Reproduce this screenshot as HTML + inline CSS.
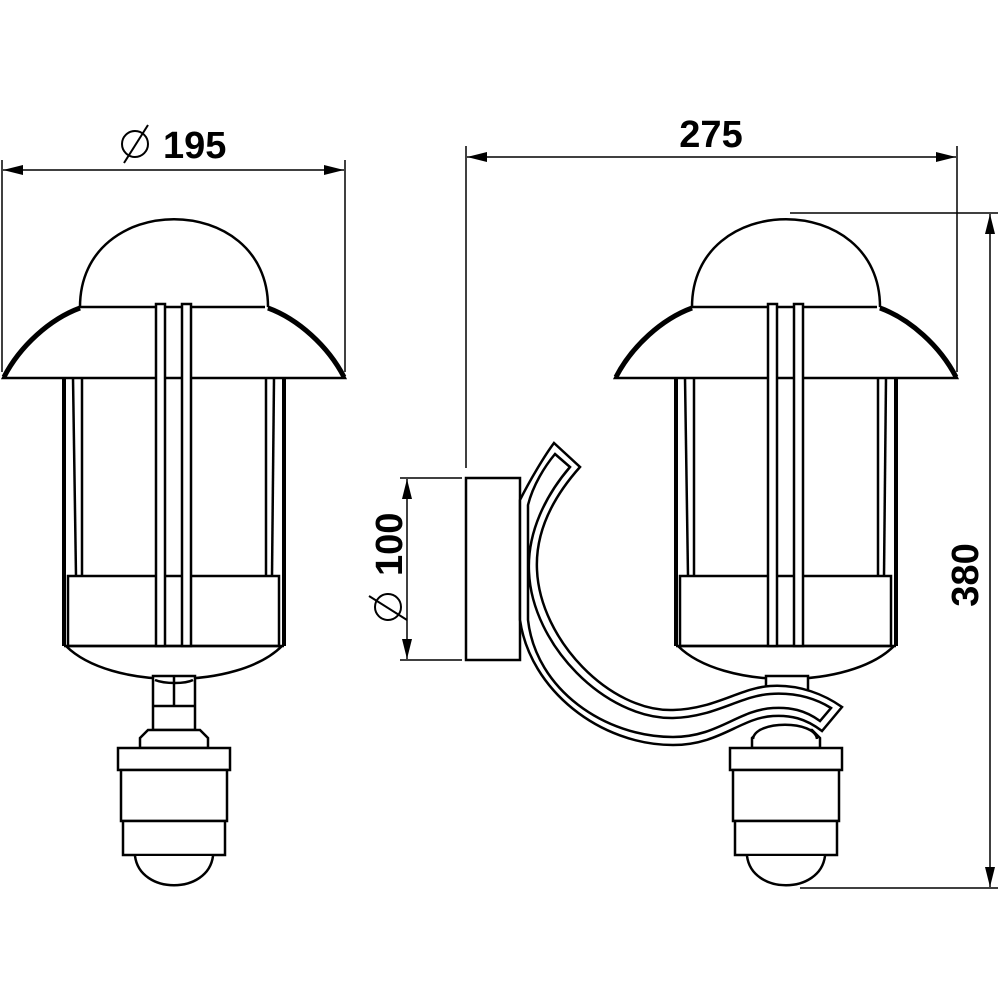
<!DOCTYPE html>
<html><head><meta charset="utf-8"><style>
html,body{margin:0;padding:0;background:#fff;}
svg{display:block;}
text{font-family:"Liberation Sans",sans-serif;font-weight:bold;fill:#000;}
</style></head><body>
<svg width="1000" height="1000" viewBox="0 0 1000 1000" xmlns="http://www.w3.org/2000/svg">
<defs>
<marker id="ar" viewBox="0 0 20 10" refX="20" refY="5" markerWidth="20" markerHeight="10" markerUnits="userSpaceOnUse" orient="auto-start-reverse"><path d="M0,0 L20,5 L0,10 z" fill="#000"/></marker>
<g id="lamp" fill="none" stroke="#000" stroke-width="2.5">
  <path d="M80,307 C80,190 268,190 268,307" fill="#fff"/>
  <path d="M80,307 L265,307" />
  <path d="M80,307 C50,318 20,345 3,378 L345,378 C328,345 298,318 268,307" stroke-width="2.5"/>
  <path d="M80,308 C50,319 20,346 4,377" stroke-width="5"/>
  <path d="M268,308 C298,319 328,346 344,377" stroke-width="5"/>
  <line x1="64" y1="378" x2="64" y2="646" stroke-width="4"/>
  <line x1="284" y1="378" x2="284" y2="646" stroke-width="4"/>
  <line x1="73" y1="378" x2="76" y2="576"/>
  <line x1="82" y1="378" x2="82" y2="576"/>
  <line x1="266" y1="378" x2="266" y2="576"/>
  <line x1="274" y1="378" x2="272" y2="576"/>
  <rect x="68" y="576" width="211" height="70"/>
  <line x1="64" y1="646" x2="284" y2="646"/>
  <rect x="156" y="304" width="9" height="342" fill="#fff"/>
  <rect x="182" y="304" width="9" height="342" fill="#fff"/>
  <path d="M66,646 C110,690 238,690 282,646"/>
</g>
<g id="sensor" fill="#fff" stroke="#000" stroke-width="2.5">
  <path d="M140,748 L140,738 L148,730 L200,730 L208,738 L208,748 Z"/>
  <rect x="118" y="748" width="112" height="22"/>
  <rect x="121" y="770" width="106" height="51"/>
  <rect x="123" y="821" width="102" height="34"/>
  <path d="M135,856 C140,895 208,895 213,856"/>
</g>
</defs>

<use href="#lamp"/>
<g fill="#fff" stroke="#000" stroke-width="2.5">
  <rect x="153" y="676" width="42" height="54"/>
  <line x1="153" y1="706" x2="195" y2="706"/>
  <line x1="174" y1="676" x2="174" y2="706"/>
  <path d="M155,680 C165,684 185,684 193,680" fill="none"/>
</g>
<use href="#sensor"/>

<g transform="translate(612,0)"><use href="#lamp"/></g>
<rect x="766" y="676" width="42" height="20" fill="#fff" stroke="#000" stroke-width="2.5"/>
<g transform="translate(612,0)"><use href="#sensor"/></g>
<path d="M753,739 C755,720 815,720 817,739" fill="#fff" stroke="#000" stroke-width="2.5"/>

<rect x="466" y="478" width="54" height="182" fill="#fff" stroke="#000" stroke-width="2.5"/>

<g stroke="#000" stroke-width="2.5" stroke-linejoin="miter">
  <path d="M554,443 L580,467 C555,495 535,530 537,570 C540,640 610,712 673,710 C715,709 740,688 770,686 C800,684 825,695 842,707 L822,731 C805,718 790,715 773,716 C740,718 720,745 673,745 C600,745 530,690 520,620 L520,500 C530,480 545,455 554,443 Z" fill="#fff"/>
  <path d="M555,454 L570,467 C546,495 527,532 529,572 C532,645 605,719 673,718 C715,717 740,696 770,694 C798,692 818,700 831,708 L820,721 C805,710 790,707 773,708 C738,710 718,737 673,737 C605,737 536,690 528,620 L528,505 C533,485 545,466 555,454 Z" fill="none"/>
</g>

<g stroke="#000" stroke-width="1.5" fill="none">
  <line x1="2" y1="160" x2="2" y2="372"/>
  <line x1="345" y1="160" x2="345" y2="372"/>
  <line x1="3" y1="170" x2="344" y2="170" marker-start="url(#ar)" marker-end="url(#ar)"/>
  <line x1="466" y1="146" x2="466" y2="468"/>
  <line x1="957" y1="146" x2="957" y2="372"/>
  <line x1="467" y1="157" x2="956" y2="157" marker-start="url(#ar)" marker-end="url(#ar)"/>
  <line x1="790" y1="213" x2="998" y2="213"/>
  <line x1="800" y1="888" x2="998" y2="888"/>
  <line x1="990" y1="214" x2="990" y2="887" marker-start="url(#ar)" marker-end="url(#ar)"/>
  <line x1="400" y1="478" x2="462" y2="478"/>
  <line x1="400" y1="660" x2="462" y2="660"/>
  <line x1="407" y1="479" x2="407" y2="659" marker-start="url(#ar)" marker-end="url(#ar)"/>
</g>
<g stroke="#000" stroke-width="2" fill="none">
  <circle cx="135" cy="144" r="13"/>
  <line x1="124" y1="163" x2="148" y2="125"/>
  <circle cx="388" cy="607" r="13"/>
  <line x1="369" y1="596" x2="407" y2="620"/>
</g>
<text x="163" y="158" font-size="38">195</text>
<text x="711" y="147" font-size="38" text-anchor="middle">275</text>
<text font-size="38" text-anchor="middle" transform="translate(978,575) rotate(-90)">380</text>
<text font-size="38" transform="translate(402,576) rotate(-90)">100</text>
</svg>
</body></html>
